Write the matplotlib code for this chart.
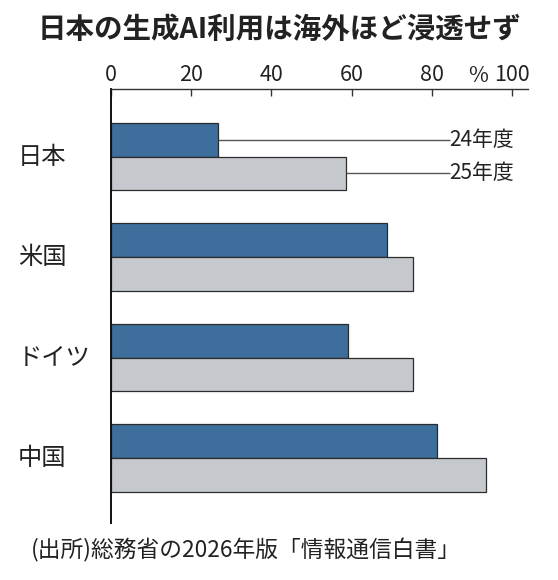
import matplotlib.pyplot as plt
import matplotlib.transforms as mtransforms
import numpy as np

plt.rcParams['font.family'] = ['Noto Sans CJK JP', 'DejaVu Sans']

countries = ['日本', '米国', 'ドイツ', '中国']
fy24 = [26.7, 68.8, 59.2, 81.2]
fy25 = [58.6, 75.4, 75.4, 93.5]
series_labels = ['24年度', '25年度']
xticks = [0, 20, 40, 60, 80, 100]

blue = '#3d6e9c'
gray = '#c5c8cd'
edge = '#2b2b2b'
ink = '#222222'

fig = plt.figure(figsize=(5.58, 5.80), dpi=100)
ax = fig.add_axes([0.1984, 0.0983, 0.7484, 0.7478])

y = np.arange(len(countries))
h = 0.335
ax.barh(y - h / 2, fy24, height=h, color=blue, edgecolor=edge, linewidth=0.9)
ax.barh(y + h / 2, fy25, height=h, color=gray, edgecolor=edge, linewidth=0.9)

ax.set_xlim(0, 104)
ax.set_ylim(3 + 0.645, -0.669)

# leader lines to the series labels (first group only)
label_x = 84.4
for val, yy, lab in [(fy24[0], y[0] - h / 2, series_labels[0]),
                     (fy25[0], y[0] + h / 2, series_labels[1])]:
    ax.plot([val, label_x], [yy, yy], color='#555555', lw=1.0,
            solid_capstyle='butt')
    ax.text(label_x, yy, lab, ha='left', va='center', fontsize=15, color=ink)

ax.xaxis.tick_top()
ax.set_xticks(xticks)
ax.set_xticklabels([str(t) for t in xticks], fontsize=15.5, color=ink)
ax.tick_params(axis='x', direction='in', length=5, width=1.0,
               color='#333333', pad=2.5)
ax.set_yticks([])

for s in ['right', 'bottom']:
    ax.spines[s].set_visible(False)
ax.spines['top'].set_linewidth(1.0)
ax.spines['top'].set_color('#333333')
ax.spines['left'].set_linewidth(1.4)
ax.spines['left'].set_color('#111111')

# percent sign in front of the 100 tick
top_trans = mtransforms.blended_transform_factory(ax.transData, ax.transAxes)
ax.text(91.6, 1.006, '%', transform=top_trans, ha='center', va='bottom',
        fontsize=15.5, color=ink)

# country names, left-aligned at a fixed figure x
name_trans = mtransforms.blended_transform_factory(fig.transFigure, ax.transData)
for yi, name in zip(y, countries):
    ax.text(18 / 558, yi, name, transform=name_trans, fontsize=17.5,
            color=ink, va='center', ha='left')

fig.text(0.5, 1 - 30 / 580, '日本の生成AI利用は海外ほど浸透せず', ha='center',
         va='center', fontsize=20.5, fontweight='bold', color=ink)
fig.text(31 / 558, 1 - 550 / 580, '(出所)総務省の2026年版「情報通信白書」',
         ha='left', va='center', fontsize=16.4, color=ink)

fig.savefig('out.png', dpi=100)
